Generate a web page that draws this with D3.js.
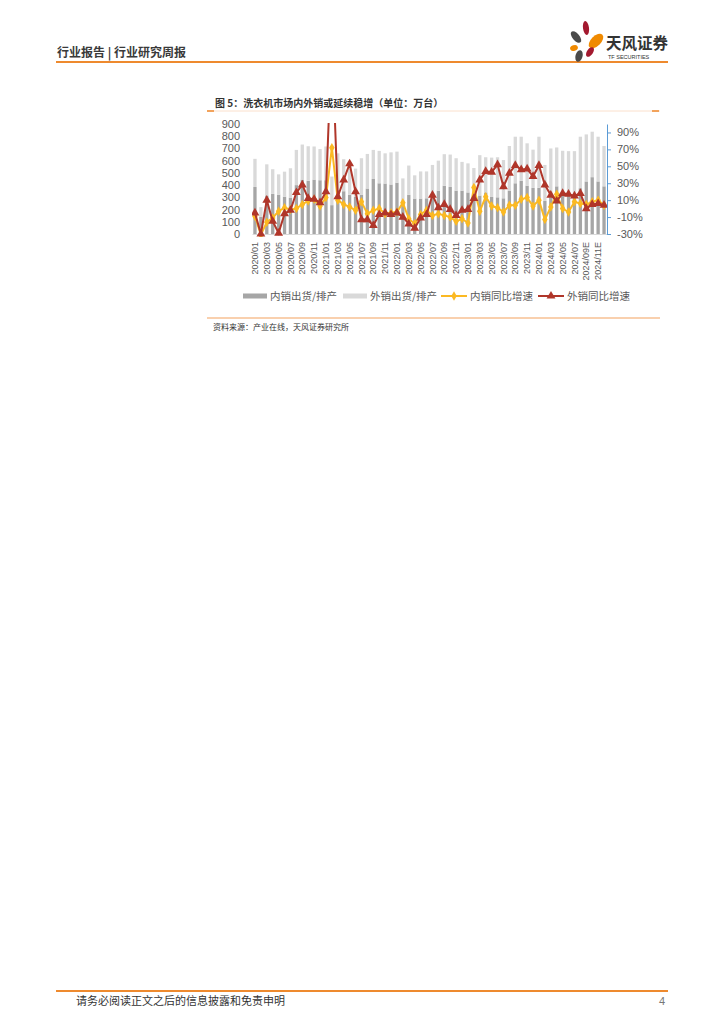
<!DOCTYPE html>
<html><head><meta charset="utf-8">
<script src="https://cdn.jsdelivr.net/npm/d3@7"></script>
<style>
body{margin:0;background:#fff}
svg{display:block}
text{font-family:"Liberation Sans",Arial,"Noto Sans CJK SC",sans-serif}
.cjk{font-family:"Noto Sans CJK SC","Liberation Sans",sans-serif}
</style></head>
<body><svg id="c" width="724" height="1024"></svg>
<script>
const categories = ["2020/01","2020/02","2020/03","2020/04","2020/05","2020/06","2020/07","2020/08","2020/09","2020/10","2020/11","2020/12",
"2021/01","2021/02","2021/03","2021/04","2021/05","2021/06","2021/07","2021/08","2021/09","2021/10","2021/11","2021/12",
"2022/01","2022/02","2022/03","2022/04","2022/05","2022/06","2022/07","2022/08","2022/09","2022/10","2022/11","2022/12",
"2023/01","2023/02","2023/03","2023/04","2023/05","2023/06","2023/07","2023/08","2023/09","2023/10","2023/11","2023/12",
"2024/01","2024/02","2024/03","2024/04","2024/05","2024/06","2024/07","2024/08","2024/09E","2024/10E","2024/11E","2024/12E"];
// 内销出货/排产 (万台)
const domestic = [385,140,315,328,322,305,295,400,445,435,445,440,440,236,360,350,320,305,322,372,450,415,413,405,420,250,320,290,290,292,300,355,395,385,355,355,340,305,315,340,303,300,292,355,415,435,395,377,378,270,300,390,340,320,305,375,430,465,430,390];
// 外销出货/排产 (万台)
const exportVol = [230,80,255,202,166,205,243,288,287,283,271,255,276,234,300,262,240,230,298,283,238,265,247,263,254,205,240,190,222,220,265,245,258,265,265,235,238,235,330,288,322,328,313,365,381,361,347,313,418,295,400,318,341,358,373,421,385,372,366,330];
// 内销同比增速 (%)
const domesticYoY = [-9,-31,-16,-11,-3,1,-1,0,5,9,11,3,13,72,10,5,2,-2,8,-6,-2,0,-6,-5,-4,7,-12,-18,-7,-2,-8,-6,-8,-10,-15,-12,-17,25,-3,14,3,1,-4,4,4,11,13,3,10,-13,2,17,0,-4,8,6,5,8,10,4];
// 外销同比增速 (%)
const exportYoY = [-5,-30,10,-15,-29,-6,-2,19,28,12,11,7,20,200,14,34,53,20,-13,-13,-20,-7,-5,-7,-5,-10,-18,-23,-11,-7,16,1,5,-1,-8,-2,-1,12,34,44,43,52,26,42,51,46,47,38,51,28,16,9,18,17,15,18,0,5,6,4];
const leftTicks = [0,100,200,300,400,500,600,700,800,900];
const rightTicks = [-30,-10,10,30,50,70,90];
const seriesNames = ["内销出货/排产","外销出货/排产","内销同比增速","外销同比增速"];

const C = {dark:"#A6A6A6", light:"#D9D9D9", yellow:"#FBB923", red:"#B0362A", axisBlue:"#5B9BD5", text:"#595959", orange:"#EE8A2E"};
const svg = d3.select("#c");
const P = {l:252, r:607, t:124, b:234};

// header
svg.append("text").attr("class","cjk").attr("x",57).attr("y",57).attr("font-size",12).attr("font-weight","bold").attr("fill","#3a3a3a").text("行业报告 | 行业研究周报");
svg.append("line").attr("x1",56).attr("x2",668).attr("y1",62).attr("y2",62).attr("stroke",C.orange).attr("stroke-width",2);
// logo
const petals = [
  {cx:586,cy:28,rx:3,ry:7,a:-8,c:"#A3192F"},
  {cx:596,cy:41,rx:5,ry:9,a:45,c:"#F08A00"},
  {cx:576,cy:37,rx:3.5,ry:7,a:-40,c:"#4A4A4A"},
  {cx:574,cy:48,rx:4,ry:2.8,a:-20,c:"#F08A00"},
  {cx:590,cy:52,rx:3,ry:5.5,a:35,c:"#A3192F"},
  {cx:579,cy:56,rx:3.5,ry:6,a:15,c:"#4A4A4A"}
];
svg.selectAll("ellipse.petal").data(petals).enter().append("ellipse")
  .attr("cx",d=>d.cx).attr("cy",d=>d.cy).attr("rx",d=>d.rx).attr("ry",d=>d.ry)
  .attr("transform",d=>`rotate(${d.a},${d.cx},${d.cy})`).attr("fill",d=>d.c);
svg.append("text").attr("class","cjk").attr("x",606).attr("y",49).attr("font-size",15.5).attr("font-weight","bold").attr("fill","#333").text("天风证券");
svg.append("text").attr("x",608).attr("y",58.5).attr("font-size",5.5).attr("fill","#333").text("TF SECURITIES");

// title
svg.append("text").attr("class","cjk").attr("x",215).attr("y",106.5).attr("font-size",10).attr("font-weight","bold").attr("fill","#333")
  .text("图 5：洗衣机市场内外销或延续稳增（单位：万台）");
svg.append("line").attr("x1",207).attr("x2",660).attr("y1",111).attr("y2",111).attr("stroke","#FBE0CC").attr("stroke-width",1);
svg.append("line").attr("x1",207).attr("x2",214).attr("y1",111).attr("y2",111).attr("stroke",C.orange).attr("stroke-width",1.5);
svg.append("line").attr("x1",652).attr("x2",659).attr("y1",111).attr("y2",111).attr("stroke",C.orange).attr("stroke-width",1.5);

// scales
const x = d3.scaleBand().domain(categories).range([P.l,P.r]).paddingInner(0.44).paddingOuter(0.22);
const yL = d3.scaleLinear().domain([0,900]).range([P.b,P.t]);
const yR = d3.scaleLinear().domain([-30,100]).range([P.b,P.t]);
const cx = d => x(d) + x.bandwidth()/2;

// bars (stacked)
const rows = categories.map((c,i)=>({c, dom:domestic[i], exp:exportVol[i], dy:domesticYoY[i], ey:exportYoY[i]}));
svg.append("g").selectAll("rect").data(rows).enter().append("rect")
  .attr("x",d=>x(d.c)).attr("width",x.bandwidth())
  .attr("y",d=>yL(d.dom)).attr("height",d=>yL(0)-yL(d.dom)).attr("fill",C.dark);
svg.append("g").selectAll("rect").data(rows).enter().append("rect")
  .attr("x",d=>x(d.c)).attr("width",x.bandwidth())
  .attr("y",d=>yL(d.dom+d.exp)).attr("height",d=>yL(d.dom)-yL(d.dom+d.exp)).attr("fill",C.light);

// axes
const gx = svg.append("g").attr("transform",`translate(0,${P.b})`)
  .call(d3.axisBottom(x).tickValues(categories.filter((d,i)=>i%2===0)).tickSize(0).tickSizeOuter(0));
gx.select(".domain").attr("stroke","#D9D9D9");
gx.selectAll("text").attr("transform","rotate(-90)").attr("text-anchor","end")
  .attr("x",-8).attr("y",0).attr("dy","0.35em").attr("font-size",9).attr("fill",C.text)
  .attr("font-family","Liberation Sans, Arial, sans-serif");

const gl = svg.append("g").attr("transform",`translate(${P.l},0)`)
  .call(d3.axisLeft(yL).tickValues(leftTicks).tickSize(0).tickPadding(12));
gl.select(".domain").remove();
gl.selectAll("text").attr("font-size",11).attr("fill",C.text).attr("font-family","Liberation Sans, Arial, sans-serif");

const gr = svg.append("g").attr("transform",`translate(${P.r},0)`)
  .call(d3.axisRight(yR).tickValues(rightTicks).tickSize(4).tickSizeOuter(0).tickPadding(6).tickFormat(d=>d+"%"));
gr.select(".domain").attr("stroke",C.axisBlue);
gr.selectAll("line").attr("stroke",C.axisBlue);
gr.selectAll("text").attr("font-size",11).attr("fill",C.text).attr("font-family","Liberation Sans, Arial, sans-serif");

// clip
svg.append("clipPath").attr("id","clip").append("rect").attr("x",P.l).attr("y",P.t-1).attr("width",P.r-P.l).attr("height",P.b-P.t+4);
const lines = svg.append("g").attr("clip-path","url(#clip)");

const lineY = d3.line().x(d=>cx(d.c)).y(d=>yR(d.dy));
const lineR = d3.line().x(d=>cx(d.c)).y(d=>yR(d.ey));
lines.append("path").datum(rows).attr("d",lineY).attr("fill","none").attr("stroke",C.yellow).attr("stroke-width",2);
lines.append("g").selectAll("path").data(rows).enter().append("path")
  .attr("d",d3.symbol(d3.symbolDiamond,26)).attr("transform",d=>`translate(${cx(d.c)},${yR(d.dy)})`).attr("fill",C.yellow);
lines.append("path").datum(rows).attr("d",lineR).attr("fill","none").attr("stroke",C.red).attr("stroke-width",2);
lines.append("g").selectAll("path").data(rows).enter().append("path")
  .attr("d",d3.symbol(d3.symbolTriangle,34)).attr("transform",d=>`translate(${cx(d.c)},${yR(d.ey)})`).attr("fill",C.red);

// legend
const lg = svg.append("g");
const ly = 296;
lg.append("rect").attr("x",243).attr("y",ly-2.5).attr("width",24).attr("height",5).attr("fill",C.dark);
lg.append("text").attr("class","cjk").attr("x",270).attr("y",ly).attr("dy","0.36em").attr("font-size",10.5).attr("fill",C.text).text(seriesNames[0]);
lg.append("rect").attr("x",343).attr("y",ly-2.5).attr("width",24).attr("height",5).attr("fill",C.light);
lg.append("text").attr("class","cjk").attr("x",370).attr("y",ly).attr("dy","0.36em").attr("font-size",10.5).attr("fill",C.text).text(seriesNames[1]);
lg.append("line").attr("x1",441).attr("x2",467).attr("y1",ly).attr("y2",ly).attr("stroke",C.yellow).attr("stroke-width",2);
lg.append("path").attr("d",d3.symbol(d3.symbolDiamond,26)).attr("transform",`translate(454,${ly})`).attr("fill",C.yellow);
lg.append("text").attr("class","cjk").attr("x",470).attr("y",ly).attr("dy","0.36em").attr("font-size",10.5).attr("fill",C.text).text(seriesNames[2]);
lg.append("line").attr("x1",538).attr("x2",564).attr("y1",ly).attr("y2",ly).attr("stroke",C.red).attr("stroke-width",2);
lg.append("path").attr("d",d3.symbol(d3.symbolTriangle,34)).attr("transform",`translate(551,${ly})`).attr("fill",C.red);
lg.append("text").attr("class","cjk").attr("x",567).attr("y",ly).attr("dy","0.36em").attr("font-size",10.5).attr("fill",C.text).text(seriesNames[3]);

// bottom line & source
svg.append("line").attr("x1",207).attr("x2",660).attr("y1",318).attr("y2",318).attr("stroke","#F3A25E").attr("stroke-width",1.2);
svg.append("text").attr("class","cjk").attr("x",213).attr("y",330).attr("font-size",8).attr("fill","#333").text("资料来源：产业在线，天风证券研究所");

// footer
svg.append("line").attr("x1",56).attr("x2",668).attr("y1",991).attr("y2",991).attr("stroke",C.orange).attr("stroke-width",2);
svg.append("text").attr("class","cjk").attr("x",76).attr("y",1005).attr("font-size",11).attr("fill","#333").text("请务必阅读正文之后的信息披露和免责申明");
svg.append("text").attr("x",665).attr("y",1005).attr("text-anchor","end").attr("font-size",11).attr("fill","#777").text("4");
</script></body></html>
